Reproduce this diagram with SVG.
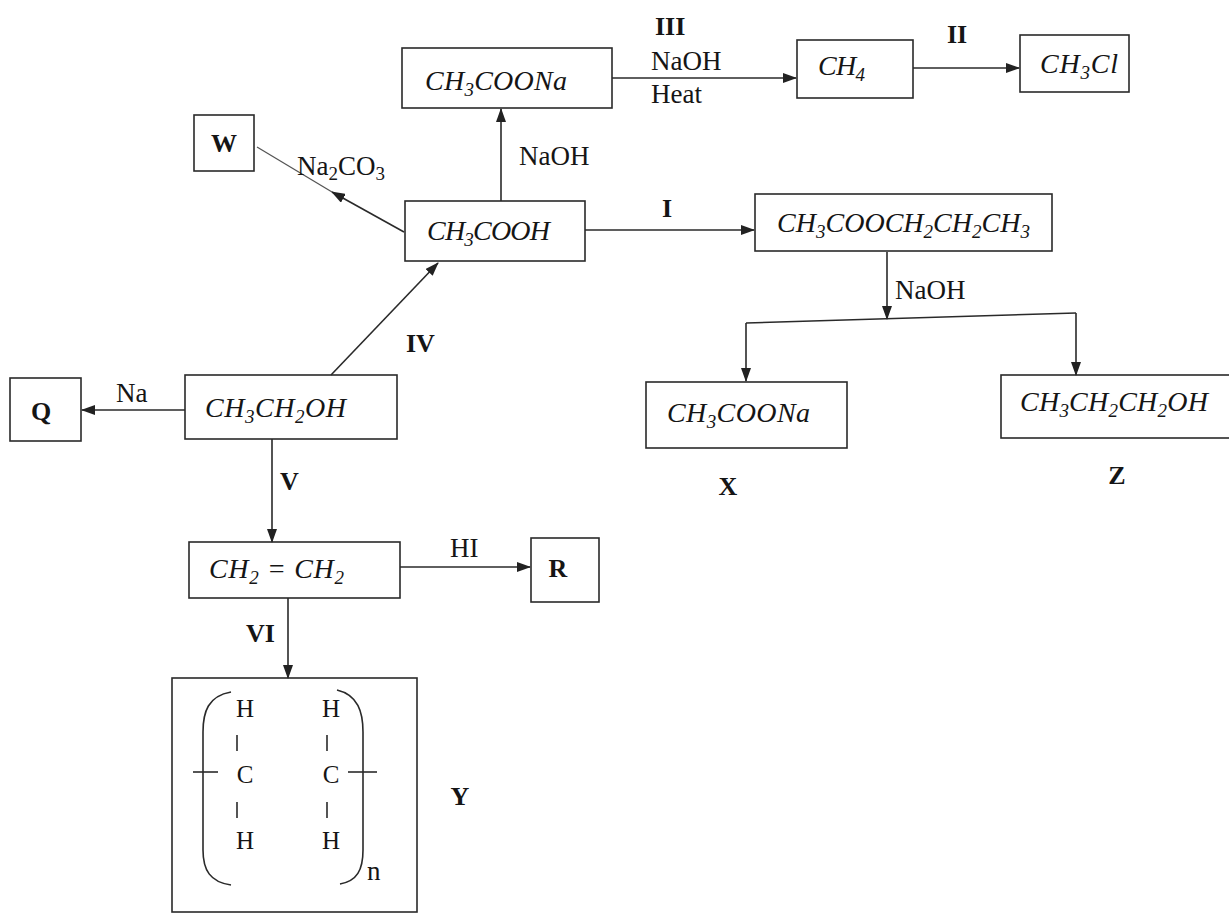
<svg xmlns="http://www.w3.org/2000/svg" width="1229" height="914" viewBox="0 0 1229 914">
<style>
.box{fill:none;stroke:#2a2a2a;stroke-width:1.6}
.ln{fill:none;stroke:#2a2a2a;stroke-width:1.6}
.lt{fill:none;stroke:#555;stroke-width:1.3}
.f{font-family:"Liberation Serif",serif;font-style:italic;font-size:28px;fill:#151515}
.l{font-family:"Liberation Serif",serif;font-size:27px;fill:#151515}
.b{font-family:"Liberation Serif",serif;font-weight:bold;font-size:26px;fill:#151515}
.p{font-family:"Liberation Serif",serif;font-size:25px;fill:#151515;text-anchor:middle}
.s{font-size:19px}
</style>
<defs>
<marker id="ah" markerWidth="14" markerHeight="10" refX="13" refY="5" orient="auto" markerUnits="userSpaceOnUse">
<path d="M0,0 L14,5 L0,10 z" fill="#222"/>
</marker>
</defs>
<rect width="1229" height="914" fill="#fff"/>

<g id="connectors">
<line class="ln" x1="612" y1="78" x2="796" y2="78" marker-end="url(#ah)"/>
<line class="ln" x1="913" y1="68" x2="1019" y2="68" marker-end="url(#ah)"/>
<line class="ln" x1="501" y1="201" x2="501" y2="109" marker-end="url(#ah)"/>
<line class="ln" x1="404" y1="232" x2="332" y2="192" marker-end="url(#ah)"/>
<line class="lt" x1="332" y1="192" x2="257" y2="147"/>
<line class="ln" x1="585" y1="230" x2="754" y2="230" marker-end="url(#ah)"/>
<line class="ln" x1="331" y1="375" x2="438" y2="263" marker-end="url(#ah)"/>
<line class="ln" x1="887" y1="252" x2="887" y2="319" marker-end="url(#ah)"/>
<polyline class="ln" points="746,323 1076,313"/>
<line class="ln" x1="746" y1="323" x2="746" y2="381" marker-end="url(#ah)"/>
<line class="ln" x1="1076" y1="313" x2="1076" y2="375" marker-end="url(#ah)"/>
<line class="ln" x1="185" y1="410" x2="82" y2="410" marker-end="url(#ah)"/>
<line class="ln" x1="272" y1="439" x2="272" y2="542" marker-end="url(#ah)"/>
<line class="ln" x1="400" y1="567" x2="530" y2="567" marker-end="url(#ah)"/>
<line class="ln" x1="288" y1="598" x2="288" y2="678" marker-end="url(#ah)"/>
</g>

<g id="labels">
<text class="b" x="655" y="35">III</text>
<text class="l" x="651" y="70">NaOH</text>
<text class="l" x="651" y="103">Heat</text>
<text class="b" x="947" y="43">II</text>
<text class="l" x="519" y="165">NaOH</text>
<text class="l" x="297" y="175" font-size="23">Na<tspan class="s" dy="5">2</tspan><tspan dy="-5">CO</tspan><tspan class="s" dy="5">3</tspan></text>
<text class="b" x="662" y="217">I</text>
<text class="l" x="895" y="299">NaOH</text>
<text class="l" x="116" y="402">Na</text>
<text class="b" x="406" y="352">IV</text>
<text class="b" x="280" y="490">V</text>
<text class="l" x="450" y="557">HI</text>
<text class="b" x="246" y="642">VI</text>
</g>

<g id="n-ch3coona-top">
<rect class="box" x="402" y="48" width="210" height="60"/>
<text class="f" x="425" y="90" textLength="142">CH<tspan class="s" dy="6">3</tspan><tspan dy="-6">COONa</tspan></text>
</g>
<g id="n-ch4">
<rect class="box" x="797" y="40" width="116" height="58"/>
<text class="f" x="818" y="75" textLength="47">CH<tspan class="s" dy="6">4</tspan></text>
</g>
<g id="n-ch3cl">
<rect class="box" x="1020" y="35" width="109" height="57"/>
<text class="f" x="1040" y="73" textLength="78">CH<tspan class="s" dy="6">3</tspan><tspan dy="-6">Cl</tspan></text>
</g>
<g id="n-w">
<rect class="box" x="194" y="115" width="60" height="56"/>
<text class="b" x="224" y="152" text-anchor="middle" font-size="24">W</text>
</g>
<g id="n-ch3cooh">
<rect class="box" x="405" y="201" width="180" height="60"/>
<text class="f" x="427" y="240" textLength="123">CH<tspan class="s" dy="6">3</tspan><tspan dy="-6">COOH</tspan></text>
</g>
<g id="n-ester">
<rect class="box" x="755" y="194" width="297" height="57"/>
<text class="f" x="777" y="232" textLength="253">CH<tspan class="s" dy="6">3</tspan><tspan dy="-6">COOCH</tspan><tspan class="s" dy="6">2</tspan><tspan dy="-6">CH</tspan><tspan class="s" dy="6">2</tspan><tspan dy="-6">CH</tspan><tspan class="s" dy="6">3</tspan></text>
</g>
<g id="n-x">
<rect class="box" x="646" y="382" width="201" height="66"/>
<text class="f" x="667" y="422" textLength="143">CH<tspan class="s" dy="6">3</tspan><tspan dy="-6">COONa</tspan></text>
<text class="b" x="728" y="495" text-anchor="middle" font-size="24">X</text>
</g>
<g id="n-z">
<rect class="box" x="1001" y="375" width="240" height="63"/>
<text class="f" x="1020" y="411" textLength="188">CH<tspan class="s" dy="6">3</tspan><tspan dy="-6">CH</tspan><tspan class="s" dy="6">2</tspan><tspan dy="-6">CH</tspan><tspan class="s" dy="6">2</tspan><tspan dy="-6">OH</tspan></text>
<text class="b" x="1117" y="484" text-anchor="middle" font-size="24">Z</text>
</g>
<g id="n-q">
<rect class="box" x="10" y="378" width="71" height="63"/>
<text class="b" x="41" y="420" text-anchor="middle" font-size="25">Q</text>
</g>
<g id="n-ethanol">
<rect class="box" x="185" y="375" width="212" height="64"/>
<text class="f" x="205" y="417" textLength="141">CH<tspan class="s" dy="6">3</tspan><tspan dy="-6">CH</tspan><tspan class="s" dy="6">2</tspan><tspan dy="-6">OH</tspan></text>
</g>
<g id="n-ethylene">
<rect class="box" x="189" y="542" width="211" height="56"/>
<text class="f" x="209" y="578" textLength="135">CH<tspan class="s" dy="6">2</tspan><tspan dy="-6"> = CH</tspan><tspan class="s" dy="6">2</tspan></text>
</g>
<g id="n-r">
<rect class="box" x="531" y="538" width="68" height="64"/>
<text class="b" x="558" y="577" text-anchor="middle" font-size="25">R</text>
</g>
<g id="n-y">
<rect class="box" x="172" y="678" width="245" height="234"/>
<path class="ln" d="M231,692 C208,696 203,712 203,732 L203,850 C203,870 210,882 231,885"/>
<path class="ln" d="M337,690 C358,695 363,712 363,732 L363,850 C363,870 357,881 340,884"/>
<text class="p" x="245" y="717">H</text>
<text class="p" x="245" y="783">C</text>
<text class="p" x="245" y="849">H</text>
<text class="p" x="331" y="717">H</text>
<text class="p" x="331" y="783">C</text>
<text class="p" x="331" y="849">H</text>
<line class="ln" x1="237" y1="735" x2="237" y2="751"/>
<line class="ln" x1="237" y1="802" x2="237" y2="818"/>
<line class="ln" x1="327" y1="735" x2="327" y2="751"/>
<line class="ln" x1="327" y1="802" x2="327" y2="818"/>
<line class="ln" x1="193" y1="772" x2="218" y2="772"/>
<line class="ln" x1="348" y1="772" x2="377" y2="772"/>
<text class="l" x="367" y="880" font-size="24">n</text>
<text class="b" x="460" y="805" text-anchor="middle" font-size="24">Y</text>
</g>
</svg>
